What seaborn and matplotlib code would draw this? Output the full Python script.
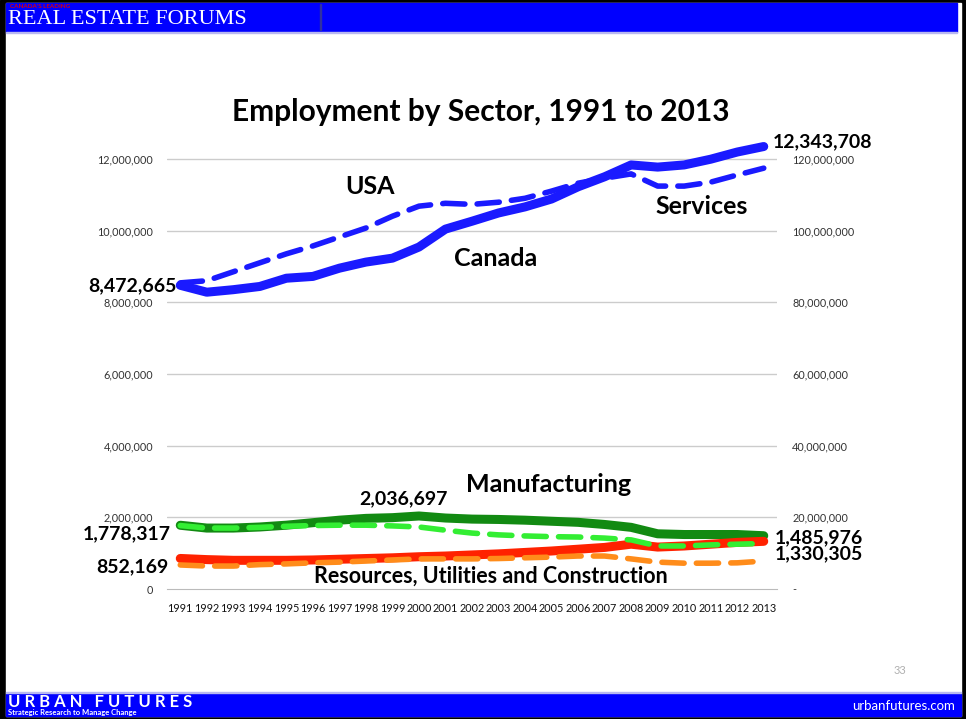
import matplotlib
matplotlib.use("Agg")
import matplotlib.pyplot as plt
import numpy as np
import pandas as pd
import seaborn as sns
from matplotlib.patches import Rectangle
from matplotlib.ticker import FuncFormatter

years = list(range(1991, 2014))

# Canada (left axis)
canada_services = [8472665, 8280000, 8350000, 8440000, 8670000, 8720000, 8950000, 9120000,
                   9230000, 9540000, 10040000, 10260000, 10490000, 10660000, 10880000,
                   11220000, 11500000, 11830000, 11770000, 11830000, 11990000, 12190000, 12343708]
canada_manuf = [1778317, 1700000, 1700000, 1730000, 1780000, 1850000, 1920000, 1970000,
                1990000, 2036697, 1980000, 1950000, 1940000, 1920000, 1890000, 1860000,
                1800000, 1720000, 1540000, 1520000, 1520000, 1520000, 1485976]
canada_resources = [852169, 820000, 800000, 800000, 800000, 810000, 830000, 850000, 870000,
                    900000, 920000, 950000, 980000, 1020000, 1060000, 1110000, 1160000,
                    1250000, 1170000, 1200000, 1250000, 1300000, 1330305]

# USA (right axis)
usa_services = [85400000, 86000000, 88500000, 91000000, 93500000, 95700000, 98200000,
                100700000, 104000000, 106800000, 107600000, 107300000, 107900000, 109000000,
                111000000, 113200000, 114600000, 115800000, 112400000, 112400000, 113500000,
                115500000, 117400000]
usa_manuf = [17700000, 17000000, 17000000, 17200000, 17500000, 17700000, 17800000, 17800000,
             17600000, 17300000, 16400000, 15600000, 15100000, 14800000, 14600000, 14500000,
             14200000, 13700000, 12000000, 12000000, 12300000, 12500000, 12700000]
usa_resources = [6700000, 6400000, 6400000, 6800000, 7000000, 7300000, 7500000, 7800000,
                 8100000, 8400000, 8400000, 8400000, 8500000, 8700000, 8900000, 9200000,
                 9200000, 8400000, 7500000, 7200000, 7200000, 7300000, 7800000]

left_ticks = [0, 2000000, 4000000, 6000000, 8000000, 10000000, 12000000]

canada = pd.DataFrame({"year": years, "services": canada_services,
                       "manuf": canada_manuf, "resources": canada_resources})
usa = pd.DataFrame({"year": years, "services": usa_services,
                    "manuf": usa_manuf, "resources": usa_resources})

sns.set_style("white")
plt.rcParams["font.family"] = ["Lato", "DejaVu Sans"]
plt.rcParams["text.color"] = "black"

W, H = 966, 719
fig = plt.figure(figsize=(W / 100, H / 100), dpi=100)

def px(x, y):
    return x / W, 1 - y / H

# slide frame and banners
fig.patches.append(Rectangle((0, 0), 1, 1, transform=fig.transFigure, color="black", zorder=-10))
fig.patches.append(Rectangle(px(6, 716), (961 - 6) / W, (716 - 3) / H, transform=fig.transFigure,
                             color="white", zorder=-9))
fig.patches.append(Rectangle(px(6, 32), (957 - 6) / W, 29 / H, transform=fig.transFigure,
                             color="#0000ff", zorder=-8))
fig.patches.append(Rectangle(px(6, 33), (957 - 6) / W, 1 / H, transform=fig.transFigure,
                             color="#b8b8f0", zorder=-8))
fig.patches.append(Rectangle(px(6, 716), (961 - 6) / W, 22 / H, transform=fig.transFigure,
                             color="#0000ff", zorder=-8))
fig.patches.append(Rectangle(px(6, 693), (961 - 6) / W, 1 / H, transform=fig.transFigure,
                             color="#b8b8f0", zorder=-8))
fig.patches.append(Rectangle(px(320, 30), 1 / W, 26 / H, transform=fig.transFigure,
                             color="#3030a0", zorder=-7))

fig.text(*px(10, 6), "CANADA'S LEADING", color="#e00000", fontsize=4.5, fontweight="bold",
         va="center", ha="left")
fig.text(*px(8, 19), "REAL ESTATE FORUMS", color="white", fontsize=16,
         family="Liberation Serif", va="center", ha="left")
fig.text(*px(8, 702), "U R B A N   F U T U R E S", color="white", fontsize=12,
         fontweight="bold", va="center", ha="left")
fig.text(*px(8, 713), "Strategic Research to Manage Change", color="white", fontsize=5.5,
         fontweight="bold", va="center", ha="left")
fig.text(*px(955, 706), "urbanfutures.com", color="white", fontsize=9.5,
         va="center", ha="right")
fig.text(*px(900, 671), "33", color="#b0b0b0", fontsize=8, va="center", ha="center")

# chart
ax = fig.add_axes([167 / W, 130 / H, (777 - 167) / W, (589 - 123) / H])
ax2 = ax.twinx()

blue, dgreen, lgreen, red, orange = "#1a1aff", "#128a12", "#33ee33", "#ff2200", "#ff8c1a"

sns.lineplot(data=canada, x="year", y="services", ax=ax, color=blue, lw=6.5,
             solid_capstyle="round", zorder=5)
sns.lineplot(data=canada, x="year", y="manuf", ax=ax, color=dgreen, lw=6.5,
             solid_capstyle="round", zorder=3)
sns.lineplot(data=canada, x="year", y="resources", ax=ax, color=red, lw=6.5,
             solid_capstyle="round", zorder=3)

# USA dashed lines sit on the twin axis, drawn above the Canada lines
dash = (4, 2.2)
sns.lineplot(data=usa, x="year", y="services", ax=ax2, color=blue, lw=4,
             zorder=4).lines[-1].set_dashes(dash)
sns.lineplot(data=usa, x="year", y="manuf", ax=ax2, color=lgreen, lw=4,
             zorder=4).lines[-1].set_dashes(dash)
sns.lineplot(data=usa, x="year", y="resources", ax=ax2, color=orange, lw=4,
             zorder=2).lines[-1].set_dashes(dash)
for ln in ax2.lines:
    ln.set_dash_capstyle("round")

ax.set_xlim(1990.5, 2013.5)
ax.set_ylim(0, 13000000)
ax2.set_ylim(0, 130000000)
ax.set_yticks(left_ticks)
ax2.set_yticks([v * 10 for v in left_ticks])
ax.yaxis.set_major_formatter(FuncFormatter(lambda v, p: f"{int(v):,}"))
ax2.yaxis.set_major_formatter(FuncFormatter(lambda v, p: "-" if v == 0 else f"{int(v):,}"))
ax.set_xticks(years)
ax.set_xticklabels([str(y) for y in years])
ax.set_xticks([y + 0.5 for y in range(1990, 2014)], minor=True)
ax.tick_params(axis="x", which="major", length=0, labelsize=7.8, pad=10, colors="#111111")
ax.tick_params(axis="x", which="minor", length=4, color="#bbbbbb")
ax.tick_params(axis="y", length=0, labelsize=7.8, pad=10, colors="#333333")
ax2.tick_params(axis="y", length=0, labelsize=7.8, pad=11, colors="#333333")
ax.set_xlabel("")
ax.set_ylabel("")
ax2.set_ylabel("")
for a in (ax, ax2):
    for s in a.spines.values():
        s.set_visible(False)
ax.spines["bottom"].set_visible(True)
ax.spines["bottom"].set_color("#bbbbbb")
for v in left_ticks[1:]:
    ax.axhline(v, color="#cccccc", lw=1, zorder=0)

fig.text(*px(481, 112), "Employment by Sector, 1991 to 2013", fontsize=21.5,
         fontweight="bold", ha="center", va="center")

lab = dict(fontsize=18, fontweight="bold", ha="center", va="center")
fig.text(*px(370, 186), "USA", **lab)
fig.text(*px(496, 258), "Canada", **lab)
fig.text(*px(702, 207), "Services", **lab)
fig.text(*px(549, 484), "Manufacturing", **lab)
fig.text(*px(491, 576), "Resources, Utilities and Construction", fontsize=15.5,
         fontweight="bold", ha="center", va="center")

num = dict(fontsize=14, fontweight="bold", va="center", textcoords="offset pixels")
ax.annotate("8,472,665", (1991, canada_services[0]), xytext=(-4, 0), ha="right", **num)
ax.annotate("12,343,708", (2013, canada_services[-1]), xytext=(9, 5), ha="left", **num)
ax.annotate("2,036,697", (2000, canada_manuf[9]), xytext=(-16, 17), ha="center", **num)
ax.annotate("1,778,317", (1991, canada_manuf[0]), xytext=(-9, -8), ha="right", **num)
ax.annotate("852,169", (1991, canada_resources[0]), xytext=(-12, -8), ha="right", **num)
ax.annotate("1,485,976", (2013, canada_manuf[-1]), xytext=(11, -2), ha="left", **num)
ax.annotate("1,330,305", (2013, canada_resources[-1]), xytext=(11, -12), ha="left", **num)

fig.savefig("out.png", dpi=100)
